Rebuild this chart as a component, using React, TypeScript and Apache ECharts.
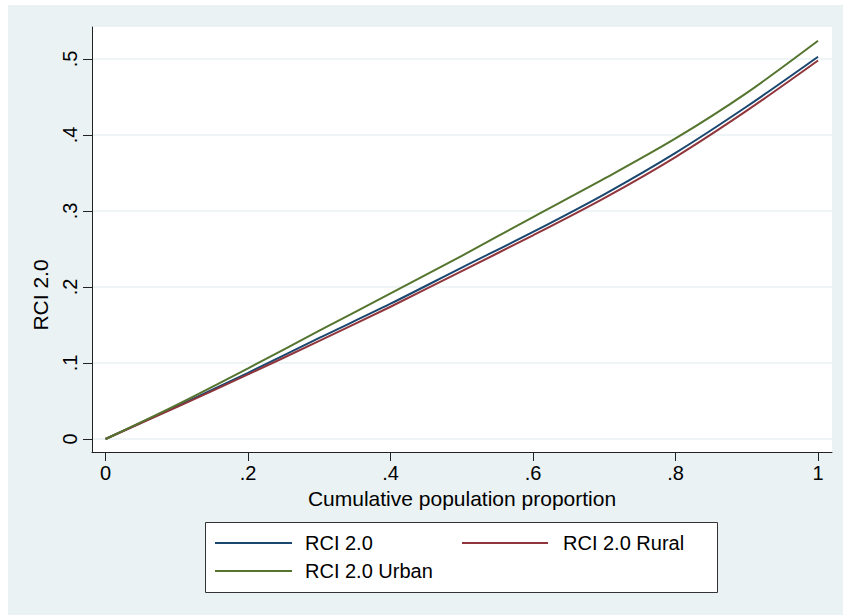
import React, { useEffect, useRef } from "react";
import * as echarts from "echarts";

const xs = [0, 0.1, 0.2, 0.3, 0.4, 0.5, 0.6, 0.7, 0.8, 0.9, 1.0];
const rci = [0, 0.043, 0.087, 0.133, 0.178, 0.2255, 0.2725, 0.322, 0.3765, 0.4375, 0.503];
const rural = [0, 0.042, 0.085, 0.129, 0.174, 0.221, 0.268, 0.317, 0.371, 0.432, 0.498];
const urban = [0, 0.045, 0.093, 0.1425, 0.1915, 0.241, 0.292, 0.3425, 0.3955, 0.4555, 0.524];

const xTicks = [0, 0.2, 0.4, 0.6, 0.8, 1];
const yTicks = [0, 0.1, 0.2, 0.3, 0.4, 0.5];

const seriesNames = ["RCI 2.0", "RCI 2.0 Rural", "RCI 2.0 Urban"];
const seriesValues = [rci, rural, urban];
const colors = ["#1a476f", "#90353b", "#55752f"];

const FONT = "'Liberation Sans', Arial, Helvetica, sans-serif";

const fmt = (v: number) => {
  if (Math.abs(v) < 1e-9) return "0";
  if (Math.abs(v - 1) < 1e-9) return "1";
  return String(Math.round(v * 10) / 10).replace(/^0/, "");
};

export default function App() {
  const ref = useRef<HTMLDivElement>(null);
  useEffect(() => {
    if (!ref.current) return;
    const chart = echarts.init(ref.current, undefined, { renderer: "svg" });
    chart.setOption({
      animation: false,
      graphic: [
        {
          type: "rect",
          z: -10,
          silent: true,
          shape: { x: 8, y: 5, width: 835, height: 610 },
          style: { fill: "#eaf2f3" },
        },
        {
          type: "rect",
          z: -5,
          silent: true,
          shape: { x: 205.5, y: 522.5, width: 512, height: 70 },
          style: { fill: "#ffffff", stroke: "#333333", lineWidth: 1 },
        },
      ],
      grid: {
        left: 92,
        top: 27,
        right: 11,
        bottom: 163,
        show: true,
        backgroundColor: "#ffffff",
        borderWidth: 0,
        containLabel: false,
      },
      xAxis: {
        type: "value",
        min: -0.019,
        max: 1.0196,
        name: "Cumulative population proportion",
        nameLocation: "middle",
        nameGap: 36,
        nameTextStyle: { fontFamily: FONT, fontSize: 21, color: "#000" },
        axisLine: { show: true, onZero: false, lineStyle: { color: "#222", width: 1 } },
        axisTick: { show: true, length: 9, inside: false, customValues: xTicks, lineStyle: { color: "#222" } },
        axisLabel: {
          customValues: xTicks,
          formatter: fmt,
          fontFamily: FONT,
          fontSize: 20,
          color: "#000",
          margin: 11,
        },
        splitLine: { show: false },
      },
      yAxis: {
        type: "value",
        min: -0.0171,
        max: 0.5421,
        name: "RCI 2.0",
        nameLocation: "middle",
        nameRotate: 90,
        nameGap: 41,
        nameTextStyle: { fontFamily: FONT, fontSize: 21, color: "#000", padding: [0, 111, 0, 0] },
        axisLine: { show: true, onZero: false, lineStyle: { color: "#222", width: 1 } },
        axisTick: { show: true, length: 9, inside: false, customValues: yTicks, lineStyle: { color: "#222" } },
        axisLabel: {
          customValues: yTicks,
          formatter: fmt,
          rotate: 90,
          fontFamily: FONT,
          fontSize: 20,
          color: "#000",
          margin: 12,
        },
        splitLine: { show: true, lineStyle: { color: "#eaf2f3", width: 1.5 } },
      },
      legend: [
        {
          data: ["RCI 2.0", "RCI 2.0 Urban"],
          orient: "vertical",
          left: 215,
          top: 533,
          padding: 0,
          itemGap: 8,
          itemWidth: 77,
          itemHeight: 2,
          icon: "rect",
          selectedMode: false,
          textStyle: { fontFamily: FONT, fontSize: 20, color: "#000", lineHeight: 20, padding: [0, 0, 0, 8] },
        },
        {
          data: ["RCI 2.0 Rural"],
          orient: "vertical",
          left: 462,
          top: 533,
          padding: 0,
          itemWidth: 86,
          itemHeight: 2,
          icon: "rect",
          selectedMode: false,
          textStyle: { fontFamily: FONT, fontSize: 20, color: "#000", lineHeight: 20, padding: [0, 0, 0, 10] },
        },
      ],
      series: seriesNames.map((name, i) => ({
        name,
        type: "line",
        data: xs.map((x, j) => [x, seriesValues[i][j]]),
        smooth: 0.3,
        showSymbol: false,
        symbol: "none",
        color: colors[i],
        lineStyle: { color: colors[i], width: 2 },
        z: 3,
      })),
    });
    return () => chart.dispose();
  }, []);
  return (
    <div
      ref={ref}
      style={{ position: "absolute", left: 0, top: 0, width: 843, height: 615 }}
    />
  );
}
